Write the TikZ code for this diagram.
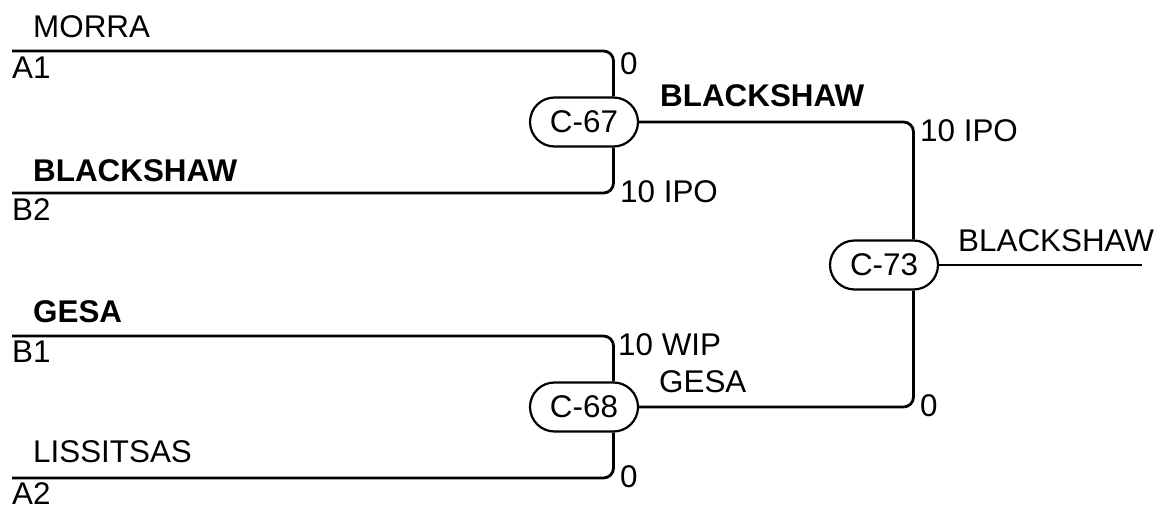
\documentclass[tikz,border=0pt]{standalone}
\usepackage{fontspec}
\setmainfont{Liberation Sans}
\usepackage{tikz}
\usetikzlibrary{positioning,shapes.misc}

\begin{document}
\begin{tikzpicture}[line join=bevel,
  every node/.style={font=\fontsize{31.5}{36}\selectfont,inner sep=0pt},
  game/.style={rounded rectangle,draw,line width=2.2bp,minimum width=108bp,minimum height=49bp},
  wire/.style={black,line width=2.8bp,rounded corners=10bp},
  lbl/.style={anchor=base west}]
\useasboundingbox (0bp,0bp) rectangle (1160bp,508bp);
%%
\node (C67) at (584bp,386bp) [game] {C-67};
  \node (C68) at (584bp,101bp) [game] {C-68};
  \node (C73) at (884bp,243bp) [game] {C-73};
  \coordinate (seedA1) at (12bp,457bp);
  \coordinate (seedB2) at (12bp,315bp);
  \coordinate (seedB1) at (12bp,172bp);
  \coordinate (seedA2) at (12bp,30bp);
  \coordinate (champ) at (1142bp,243bp);
  \node (MORRA) at (33bp,470bp) [lbl] {MORRA};
  \node (A1) at (12bp,429bp) [lbl] {A1};
  \node (BLACKSHAW) at (33bp,326bp) [lbl] {\bfseries BLACKSHAW};
  \node (B2) at (12bp,287bp) [lbl] {B2};
  \node (GESA) at (33bp,185bp) [lbl] {\bfseries GESA};
  \node (B1) at (12bp,145bp) [lbl] {B1};
  \node (LISSITSAS) at (33bp,45bp) [lbl] {LISSITSAS};
  \node (A2) at (12bp,4bp) [lbl] {A2};
  \node (C67top) at (620bp,433bp) [lbl] {0};
  \node (C67bot) at (620bp,305bp) [lbl] {10 IPO};
  \node (C68top) at (618bp,152bp) [lbl] {10 WIP};
  \node (C68bot) at (620bp,21bp) [lbl] {0};
  \node (C73top) at (920bp,366bp) [lbl] {10 IPO};
  \node (C73bot) at (920bp,91bp) [lbl] {0};
  \node (C67win) at (660bp,401bp) [lbl] {\bfseries BLACKSHAW};
  \node (C68win) at (659bp,115bp) [lbl] {GESA};
  \node (C73win) at (958bp,256bp) [lbl] {BLACKSHAW};
  \draw [wire] (seedA1) -| (C67.north east);
  \draw [wire] (seedB2) -| (C67.south east);
  \draw [wire] (seedB1) -| (C68.north east);
  \draw [wire] (seedA2) -| (C68.south east);
  \draw [wire] (C67.east) -| (C73.north east);
  \draw [wire] (C68.east) -| (C73.south east);
  \draw [wire] (C73.east) -- (champ);
%
\end{tikzpicture}
\end{document}
